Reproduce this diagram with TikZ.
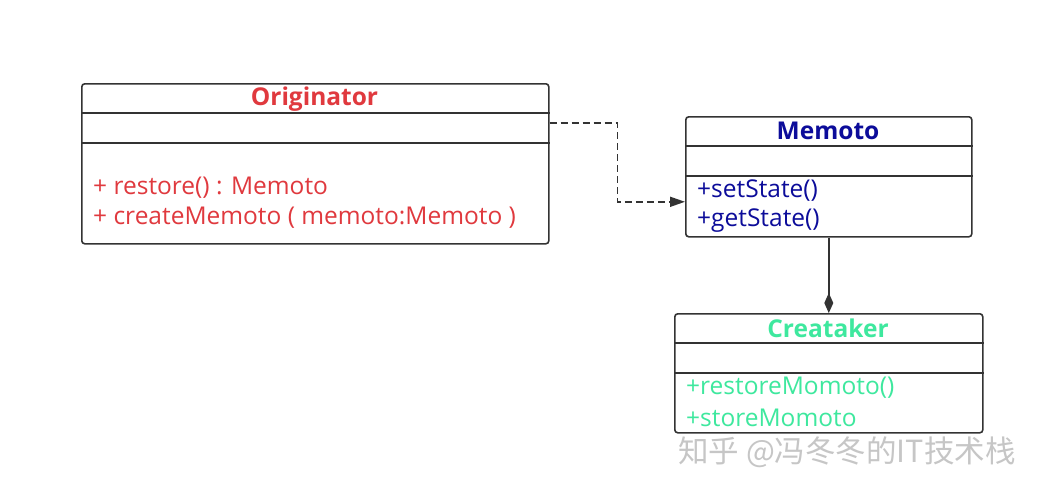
\documentclass[tikz,border=0pt]{standalone}
\usepackage{fontspec}
\setmainfont{Open Sans}
\newfontfamily\cjk{Noto Sans CJK SC}
\usetikzlibrary{arrows.meta}
\definecolor{linec}{HTML}{333333}
\definecolor{origc}{HTML}{E0393E}
\definecolor{memoc}{HTML}{0C0C9A}
\definecolor{creac}{HTML}{3EE89E}
\tikzset{
  umlbox/.style={draw=linec, line width=1.6pt, rounded corners=3pt, inner sep=0pt, anchor=north west},
  sep/.style={draw=linec, line width=1.6pt},
  ctitle/.style={font=\bfseries\fontsize{24.5}{28}\selectfont, inner sep=0pt},
  meth/.style={font=\fontsize{24.5}{28}\selectfont, inner sep=0pt, anchor=west},
  dep/.style={draw=linec, line width=1.6pt, dash pattern=on 7pt off 4pt, -{Triangle[length=15pt,width=10pt]}},
  comp/.style={draw=linec, line width=1.6pt, -{Diamond[length=20pt,width=9pt]}},
}
\begin{document}
\begin{tikzpicture}[x=1pt,y=-1pt]
\useasboundingbox[fill=white] (0,0) rectangle (1044,495);
% Originator
\node[umlbox, minimum width=467pt, minimum height=160pt] (orig) at (81,83) {};
\draw[sep] ([yshift=-30pt]orig.north west) -- ([yshift=-30pt]orig.north east);
\draw[sep] ([yshift=-60pt]orig.north west) -- ([yshift=-60pt]orig.north east);
\node[ctitle, text=origc] (origt) at (314.5,99) {Originator};
\node[meth, text=origc] (origm1) at (93,188) {+ restore() : Memoto};
\node[meth, text=origc] (origm2) at (93,218) {+ createMemoto ( memoto:Memoto )};
% Memoto
\node[umlbox, minimum width=286pt, minimum height=120pt] (memo) at (685,116) {};
\draw[sep] ([yshift=-30pt]memo.north west) -- ([yshift=-30pt]memo.north east);
\draw[sep] ([yshift=-60pt]memo.north west) -- ([yshift=-60pt]memo.north east);
\node[ctitle, text=memoc] (memot) at (828,131) {Memoto};
\node[meth, text=memoc] (memom1) at (697,191) {+setState()};
\node[meth, text=memoc] (memom2) at (697,221) {+getState()};
% Creataker
\node[umlbox, minimum width=308pt, minimum height=119pt] (crea) at (674,313) {};
\draw[sep] ([yshift=-30pt]crea.north west) -- ([yshift=-30pt]crea.north east);
\draw[sep] ([yshift=-60pt]crea.north west) -- ([yshift=-60pt]crea.north east);
\node[ctitle, text=creac] (creat) at (828,328) {Creataker};
\node[meth, text=creac] (cream1) at (686,388) {+restoreMomoto()};
\node[meth, text=creac] (cream2) at (686,418) {+storeMomoto};
% connectors
\draw[dep] ([yshift=-40pt]orig.north east) -- ++(68,0) |- ([yshift=-25pt]memo.west);
\draw[comp] (memo.south) -- (crea.north);
% watermark
\node[font=\cjk\fontsize{30.5}{34}\selectfont, text=gray!45, inner sep=0pt, anchor=west] (wm) at (678,452) {知乎 @冯冬冬的IT技术栈};
\end{tikzpicture}
\end{document}
